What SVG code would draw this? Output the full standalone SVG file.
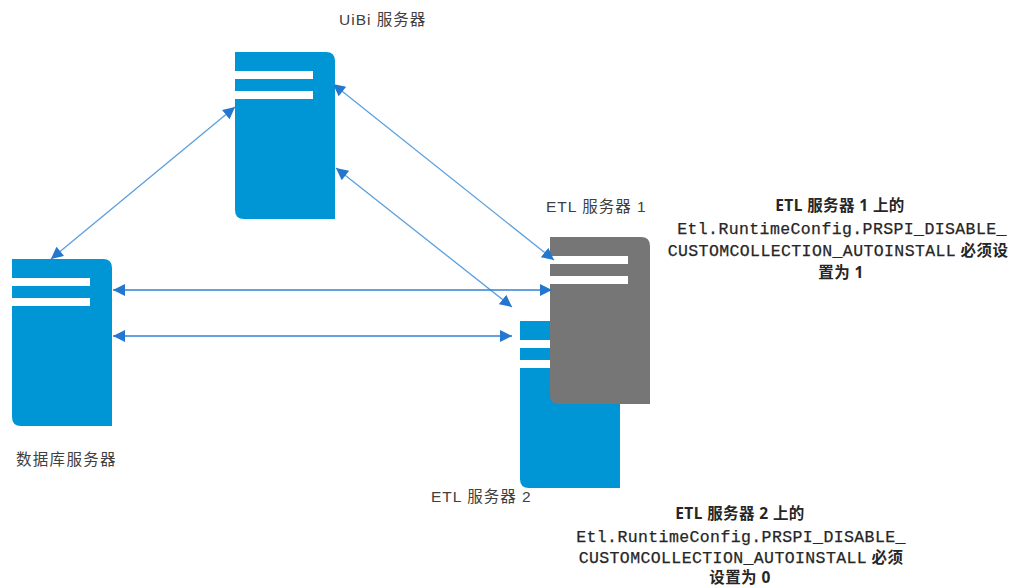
<svg xmlns="http://www.w3.org/2000/svg" width="1015" height="587" viewBox="0 0 1015 587">
<style>
.lbl{font-family:"Liberation Sans","Noto Sans CJK SC",sans-serif;font-size:15.5px;fill:#404040;letter-spacing:1px}
.note{font-family:"Noto Sans","Noto Sans CJK SC",sans-serif;font-size:15.5px;fill:#262626;text-anchor:middle;font-weight:bold;letter-spacing:.4px}
.m{font-family:"Liberation Mono","Noto Sans CJK SC",monospace;font-size:16.5px;font-weight:normal;letter-spacing:.4px;stroke:#262626;stroke-width:.25}
.blue{fill:#0096d6}.grey{fill:#767676}
.c{fill:none;stroke:#5b9fdc;stroke-width:1.3;marker-start:url(#s);marker-end:url(#e)}
.h{stroke:#2f82d4}
</style>
<defs>
<marker id="e" markerUnits="userSpaceOnUse" markerWidth="13" markerHeight="12" refX="12" refY="6" orient="auto"><path d="M0 0L12 6L0 12Z" fill="#2477cf"/></marker>
<marker id="s" markerUnits="userSpaceOnUse" markerWidth="13" markerHeight="12" refX="0" refY="6" orient="auto"><path d="M12 0L0 6L12 12Z" fill="#2477cf"/></marker>
<path id="srv" d="M0 0H91Q100 0 100 9V167H9Q0 167 0 158V47H78V39H0V27H78V19H0Z"/>
</defs>
<g id="node-uibi"><use href="#srv" x="235" y="52" class="blue"/><text class="lbl" x="339" y="25">UiBi 服务器</text></g>
<g id="node-db"><use href="#srv" x="12" y="259" class="blue"/><text class="lbl" x="16" y="465" style="letter-spacing:1.3px">数据库服务器</text></g>
<g id="node-etl2"><use href="#srv" x="520" y="321" class="blue"/><text class="lbl" x="431" y="502">ETL 服务器 2</text>
<text class="note" x="740" y="519">ETL 服务器 2 上的</text>
<text class="note" x="741" y="542"><tspan class="m">Etl.RuntimeConfig.PRSPI_DISABLE_</tspan></text>
<text class="note" x="741" y="563"><tspan class="m">CUSTOMCOLLECTION_AUTOINSTALL</tspan> 必须</text>
<text class="note" x="740" y="583">设置为 0</text></g>
<g id="node-etl1"><use href="#srv" x="550" y="237" class="grey"/><text class="lbl" x="546" y="212">ETL 服务器 1</text>
<text class="note" x="840" y="211">ETL 服务器 1 上的</text>
<text class="note" x="842" y="234"><tspan class="m">Etl.RuntimeConfig.PRSPI_DISABLE_</tspan></text>
<text class="note" x="838" y="256"><tspan class="m">CUSTOMCOLLECTION_AUTOINSTALL</tspan> 必须设</text>
<text class="note" x="841" y="278">置为 1</text></g>
<g id="connectors">
<line class="c" x1="51" y1="259" x2="235" y2="107"/>
<line class="c" x1="333" y1="84" x2="554" y2="260"/>
<line class="c" x1="336" y1="168" x2="512" y2="307"/>
<line class="c h" x1="113" y1="290" x2="552" y2="290"/>
<line class="c h" x1="113" y1="336" x2="512" y2="336"/>
</g>
</svg>
